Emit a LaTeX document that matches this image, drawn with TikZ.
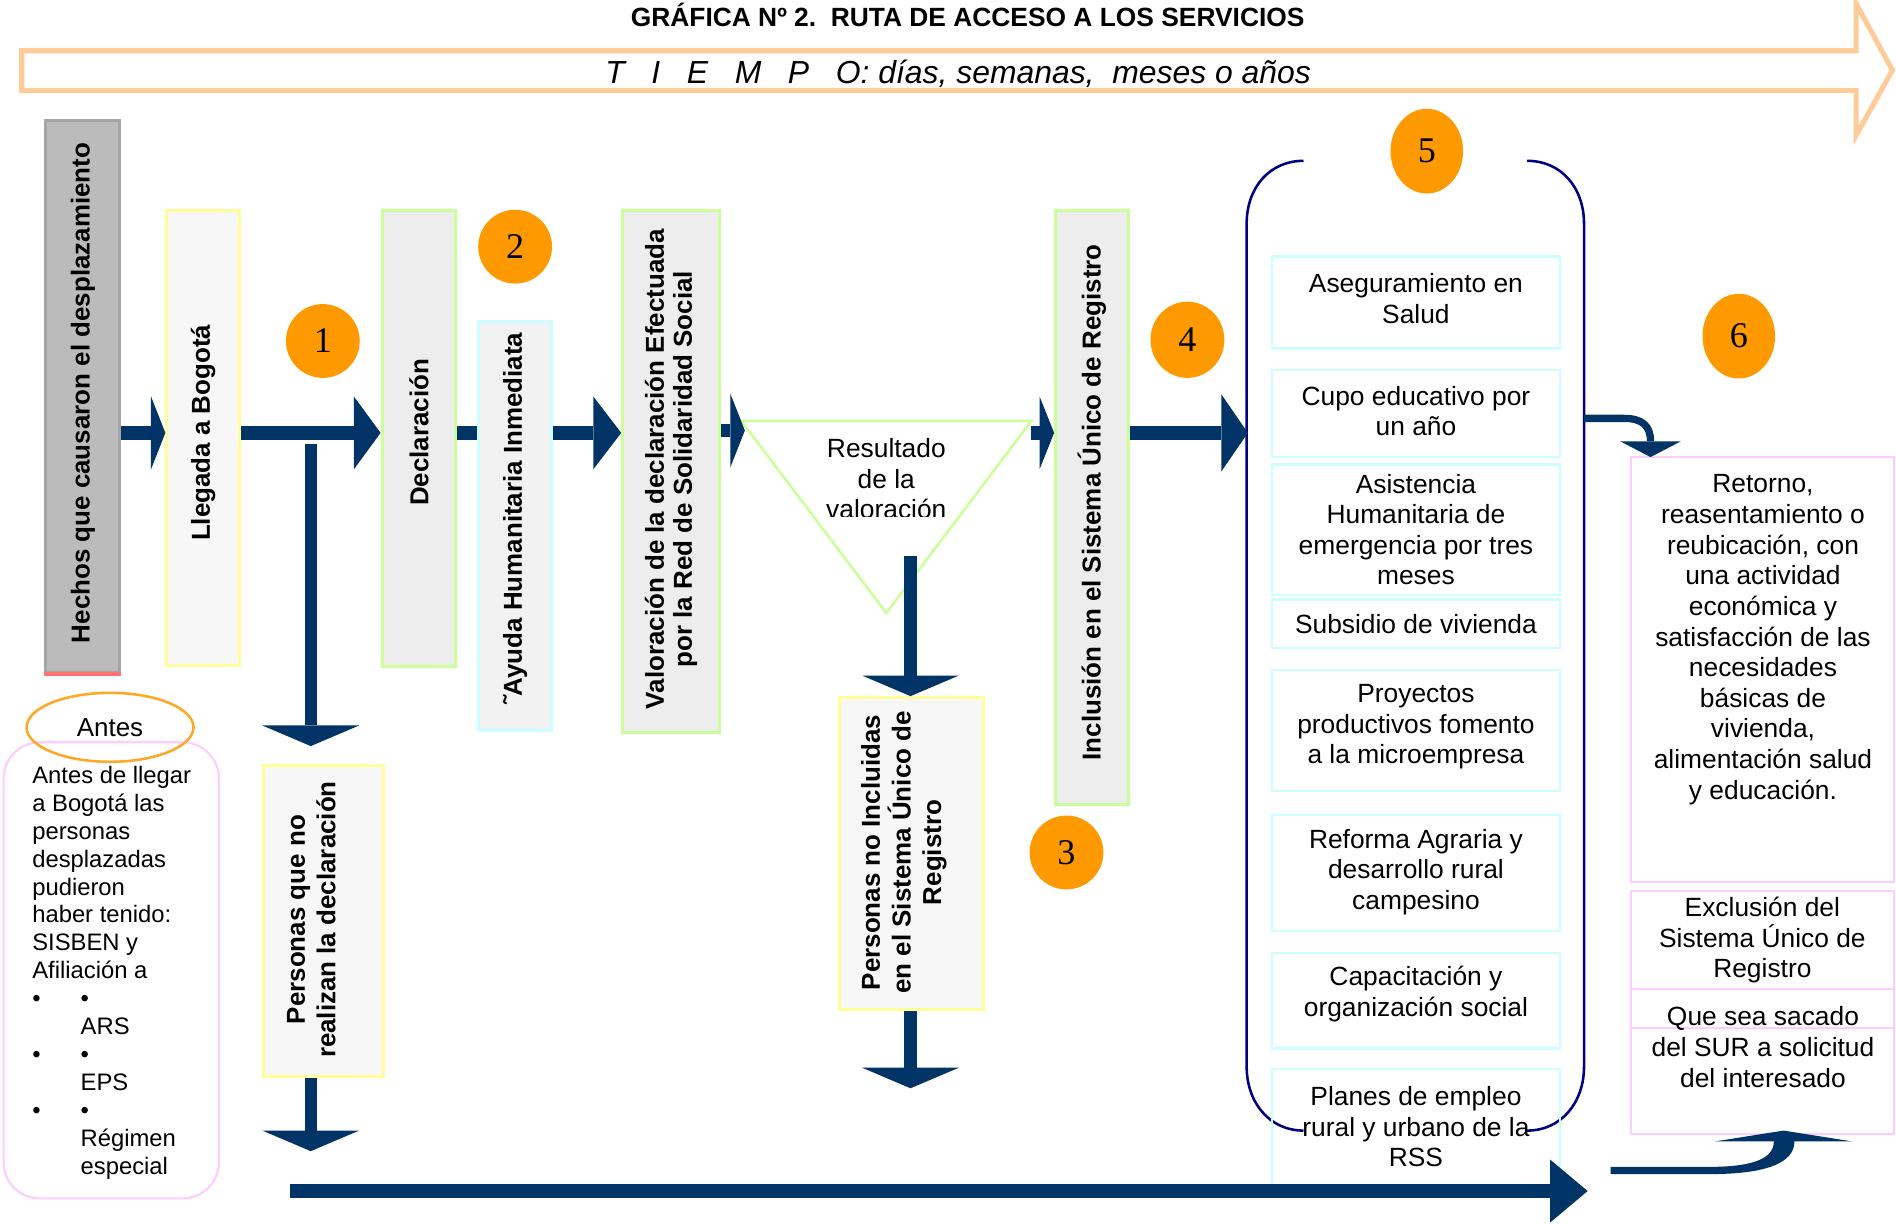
\documentclass[tikz,border=0pt]{standalone}
\usepackage{fontspec}
\setmainfont{Liberation Sans}
\newfontfamily\numfont{Liberation Serif}
\usetikzlibrary{arrows.meta,shapes.geometric,calc}
\definecolor{navyA}{HTML}{003366}
\definecolor{orangeC}{HTML}{FF9900}
\definecolor{bracketC}{HTML}{000080}
\definecolor{pinkB}{HTML}{FFCCFF}
\definecolor{cyanB}{HTML}{CCFFFF}
\definecolor{yellowB}{HTML}{FFFF99}
\definecolor{greenB}{HTML}{CCFF99}
\definecolor{peachB}{HTML}{FFCC99}
\definecolor{grayF}{HTML}{BBBBBB}
\definecolor{grayB}{HTML}{A6A6A6}
\definecolor{lightF}{HTML}{F7F7F7}
\definecolor{midF}{HTML}{EDEDED}
\definecolor{ayF}{HTML}{F2F2F2}
\tikzset{
  rbox/.style={rectangle, inner sep=0pt, line width=0.7pt},
  vtext/.style={rotate=90, inner sep=0pt, align=center, font=\bfseries\fontsize{6.1}{7.2}\selectfont},
  numc/.style={ellipse, fill=orangeC, inner sep=0pt, font=\numfont\fontsize{8.5}{10}\selectfont},
  svc/.style={rectangle, draw=cyanB, line width=0.6pt, minimum width=2.38cm, inner sep=0pt, align=center, font=\fontsize{6.2}{7.2}\selectfont},
  pbox/.style={rectangle, draw=pinkB, line width=0.5pt, minimum width=2.17cm, inner sep=0pt, align=center, font=\fontsize{6.2}{7.2}\selectfont},
  arrH/.style 2 args={draw=navyA, line width=0.11cm, -{Triangle[length=#1, width=#2, line width=0pt]}},
  arrV/.style={draw=navyA, line width=0.10cm, -{Triangle[length=0.17cm, width=0.80cm, line width=0pt]}},
  shaft/.style={draw=navyA, line width=0.11cm},
}
\begin{document}
\begin{tikzpicture}[x=0.01cm,y=-0.01cm]
\useasboundingbox (0,0) rectangle (1568,1012);

% ---- top time arrow ----
\draw[draw=peachB, line width=1.2pt] (18,42) -- (1535,42) -- (1535,3) -- (1565,58) -- (1535,112) -- (1535,75) -- (18,75) -- cycle;
\node[anchor=base west, inner sep=0pt, font=\bfseries\fontsize{6.2}{7}\selectfont] (title) at (521,22) {GRÁFICA Nº 2.\ \ RUTA DE ACCESO A LOS SERVICIOS};
\node[anchor=base west, inner sep=0pt, font=\itshape\fontsize{7.5}{9}\selectfont] (tiempo) at (500,69) {T\ \ \ I\ \ \ E\ \ \ M\ \ \ P\ \ \ O: días, semanas,\ \ meses o años};

% ---- vertical boxes ----
\node[rbox, draw=grayB, fill=grayF, minimum width=0.61cm, minimum height=4.56cm] (hechos) at (68.5,328) {};
\draw[red!55, line width=0.8pt] (hechos.south west) -- (hechos.south east);
\node[vtext] (hechosT) at ($(hechos)+(0,-3)$) {Hechos que causaron el desplazamiento};

\node[rbox, draw=yellowB, fill=lightF, minimum width=0.60cm, minimum height=3.76cm] (llegada) at (168,362) {};
\node[vtext] (llegadaT) at ($(llegada)+(0,-4)$) {Llegada a Bogotá};

\node[rbox, draw=greenB, fill=midF, minimum width=0.61cm, minimum height=3.77cm] (decl) at (346.5,362.5) {};
\node[vtext] (declT) at ($(decl)+(0,-5)$) {Declaración};

\node[rbox, draw=cyanB, fill=ayF, minimum width=0.60cm, minimum height=3.38cm] (ayuda) at (426,435) {};
\node[vtext] (ayudaT) at ($(ayuda)+(0,-6)$) {˜Ayuda Humanitaria Inmediata};

\node[rbox, draw=greenB, fill=midF, minimum width=0.80cm, minimum height=4.32cm] (valor) at (555,390) {};
\node[vtext, font=\bfseries\fontsize{6.1}{6.6}\selectfont] (valorT) at ($(valor)+(0,-2)$) {Valoración de la declaración Efectuada\\por la Red de Solidaridad Social};

\node[rbox, draw=greenB, fill=midF, minimum width=0.60cm, minimum height=4.91cm] (incl) at (903,419.5) {};
\node[vtext] (inclT) at ($(incl)+(0,-4)$) {Inclusión en el Sistema Único de Registro};

\node[rbox, draw=yellowB, fill=lightF, minimum width=1.19cm, minimum height=2.58cm] (noincl) at (753.5,706) {};
\node[vtext] (noinclT) at ($(noincl)+(-6,-1)$) {Personas no Incluidas\\en el Sistema Único de\\Registro};

\node[rbox, draw=yellowB, fill=lightF, minimum width=0.99cm, minimum height=2.57cm] (noreal) at (267.5,761.5) {};
\node[vtext] (norealT) at ($(noreal)+(-10,-1)$) {Personas que no\\realizan la declaración};

% ---- triangle ----
\coordinate (tl) at (613,348);
\coordinate (tr) at (853,348);
\coordinate (tb) at (733,507);
\draw[greenB, line width=0.6pt] (tl) -- (tr) -- (tb) -- cycle;
\begin{scope}
  \clip (600,340) rectangle (870,427);
  \node[inner sep=0pt, align=center, font=\fontsize{6.2}{7.2}\selectfont] (res) at (733,396) {Resultado\\de la\\valoración};
\end{scope}

% ---- Antes ----
\node[rectangle, draw=pinkB, line width=0.5pt, rounded corners=0.3cm, minimum width=1.78cm, minimum height=3.77cm] (antesbox) at (92,802.5) {};
\node[ellipse, draw=orangeC!85, line width=0.6pt, minimum width=1.38cm, minimum height=0.57cm, inner sep=0pt, font=\fontsize{6.1}{7}\selectfont] (antes) at (91,601.5) {Antes};
\node[anchor=north west, inner sep=0pt, align=left, font=\fontsize{5.6}{6.56}\selectfont] (antesT) at (26,633) {Antes de llegar\\a Bogotá las\\personas\\desplazadas\\pudieron\\haber tenido:\\SISBEN y\\Afiliación a\\\makebox[0.4cm][l]{\textbullet}\textbullet\\\hspace*{0.4cm}ARS\\\makebox[0.4cm][l]{\textbullet}\textbullet\\\hspace*{0.4cm}EPS\\\makebox[0.4cm][l]{\textbullet}\textbullet\\\hspace*{0.4cm}Régimen\\\hspace*{0.4cm}especial};

% ---- bracket ----
\draw[bracketC, line width=0.6pt] (1078,133) .. controls (1050,133) and (1031,155) .. (1031,185) -- (1031,882) .. controls (1031,912) and (1050,935) .. (1078,935);
\draw[bracketC, line width=0.6pt] (1263,133) .. controls (1291,133) and (1310,155) .. (1310,185) -- (1310,882) .. controls (1310,912) and (1291,935) .. (1263,935);

% ---- services ----
\node[svc, minimum height=0.76cm] (s1) at (1171,250) {};
\node[inner sep=0pt, align=center, font=\fontsize{6.2}{7.2}\selectfont] (s1T) at (1171,247) {Aseguramiento en\\Salud};
\node[svc, minimum height=0.72cm] (s2) at (1171,342) {};
\node[inner sep=0pt, align=center, font=\fontsize{6.2}{7.2}\selectfont] (s2T) at (1171,340) {Cupo educativo por\\un año};
\node[svc, minimum height=1.08cm] (s3) at (1171,438) {Asistencia\\Humanitaria de\\emergencia por tres\\meses};
\node[svc, minimum height=0.40cm] (s4) at (1171,516) {Subsidio de vivienda};
\node[svc, minimum height=1.00cm] (s5) at (1171,604) {};
\node[inner sep=0pt, align=center, font=\fontsize{6.2}{7.2}\selectfont] (s5T) at (1171,601) {Proyectos\\productivos fomento\\a la microempresa};
\node[svc, minimum height=0.96cm] (s6) at (1171,722) {};
\node[inner sep=0pt, align=center, font=\fontsize{6.2}{7.2}\selectfont] (s6T) at (1171,721) {Reforma Agraria y\\desarrollo rural\\campesino};
\node[svc, minimum height=0.79cm] (s7) at (1171,827.5) {};
\node[inner sep=0pt, align=center, font=\fontsize{6.2}{7.2}\selectfont] (s7T) at (1171,822) {Capacitación y\\organización social};
\node[svc, minimum height=0.96cm] (s8) at (1171,932) {Planes de empleo\\rural y urbano de la\\RSS};

% ---- right column ----
\node[pbox, minimum height=3.51cm] (r1) at (1457.5,553.5) {};
\node[anchor=north, inner sep=0pt, align=center, font=\fontsize{6.2}{7.2}\selectfont] (r1T) at (1458,392) {Retorno,\\reasentamiento o\\reubicación, con\\una actividad\\económica y\\satisfacción de las\\necesidades\\básicas de\\vivienda,\\alimentación salud\\y educación.};
\node[pbox, minimum height=0.81cm] (r2) at (1457.5,777.5) {Exclusión del\\Sistema Único de\\Registro};
\node[pbox, minimum height=1.20cm] (r3) at (1457.5,878) {};
\node[pbox, minimum height=0.88cm] (r3b) at (1457.5,894) {};
\node[inner sep=0pt, align=center, font=\fontsize{6.2}{7.2}\selectfont] (r3T) at (1458,866) {Que sea sacado\\del SUR a solicitud\\del interesado};

% ---- numbers ----
\node[numc, minimum width=0.61cm, minimum height=0.61cm] (n1) at (267,282) {1};
\node[numc, minimum width=0.61cm, minimum height=0.61cm] (n2) at (426,204) {2};
\node[numc, minimum width=0.61cm, minimum height=0.61cm] (n3) at (882,705) {3};
\node[numc, minimum width=0.61cm, minimum height=0.63cm] (n4) at (982,281) {4};
\node[numc, minimum width=0.60cm, minimum height=0.70cm] (n5) at (1180,125) {5};
\node[numc, minimum width=0.60cm, minimum height=0.70cm] (n6) at (1438,278) {6};

% ---- connectors ----
\coordinate (lvl) at (0,358);
\draw[arrH={0.12cm}{0.61cm}] (hechos.east |- lvl) -- (llegada.west |- lvl);
\draw[arrH={0.22cm}{0.60cm}] (llegada.east |- lvl) -- (decl.west |- lvl);
\draw[shaft] (decl.east |- lvl) -- (ayuda.west |- lvl);
\draw[arrH={0.23cm}{0.60cm}] (ayuda.east |- lvl) -- (valor.west |- lvl);
\coordinate (tin) at (616,356);
\draw[arrH={0.12cm}{0.61cm}] (valor.east |- tin) -- (tin);
\draw[arrH={0.12cm}{0.60cm}] (tr |- lvl) -- (incl.west |- lvl);
\coordinate (brL) at (1032,358);
\draw[arrH={0.22cm}{0.64cm}] (incl.east |- lvl) -- (brL);

\coordinate (br1) at (257,367);
\coordinate (br1t) at (257,617);
\draw[arrV] (br1) -- (br1t);
\coordinate (d2) at (257,952);
\draw[arrV] (noreal.south -| d2) -- (d2);
\coordinate (tdown) at (753,460);
\draw[arrV] (tdown) -- (noincl.north -| tdown);
\coordinate (d4) at (753,900);
\draw[arrV] (noincl.south -| d4) -- (d4);

\coordinate (b1) at (240,985);
\coordinate (b2) at (1313,985);
\draw[draw=navyA, line width=0.12cm, -{Triangle[length=0.31cm, width=0.52cm, line width=0pt]}] (b1) -- (b2);

\coordinate (brR) at (1310,346);
\coordinate (rin) at (1365,378);
\draw[draw=navyA, line width=0.06cm, -{Triangle[length=0.13cm, width=0.50cm, line width=0pt]}] (brR) -- (1343,346) .. controls (1358,346) and (1365,352) .. (rin);

\fill[navyA] (1332,965) -- (1414,965) .. controls (1450,965) and (1467,958) .. (1467,944) -- (1418,944) -- (1475,935) -- (1532,944) -- (1484,944) .. controls (1484,962) and (1460,971) .. (1414,971) -- (1332,971) -- cycle;

\end{tikzpicture}
\end{document}
